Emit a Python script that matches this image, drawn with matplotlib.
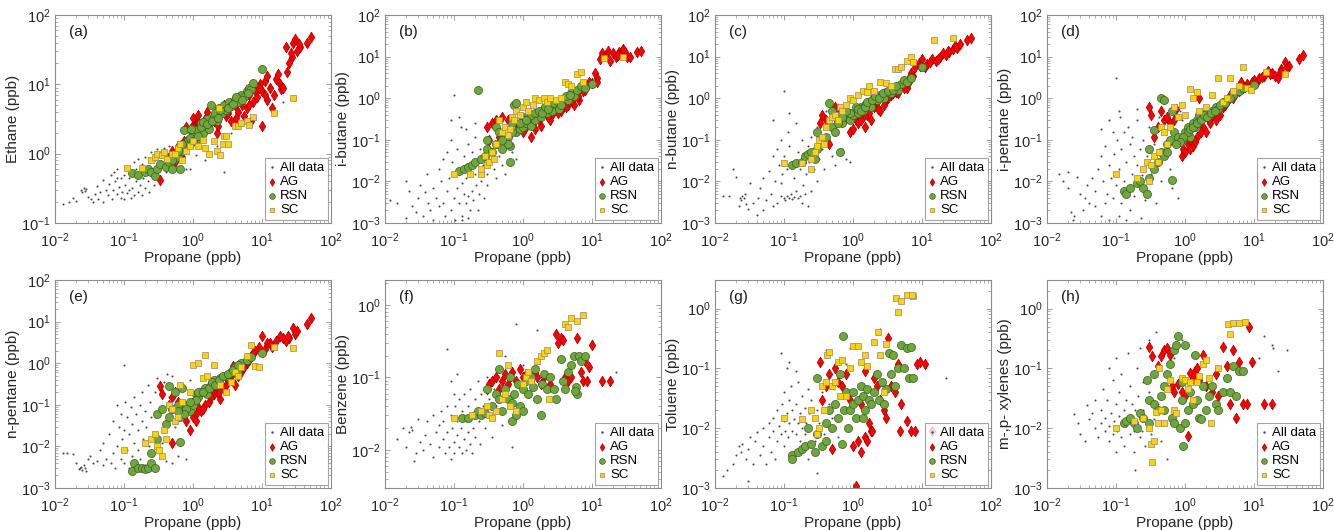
import numpy as np
import matplotlib.pyplot as plt
from matplotlib.ticker import LogLocator, NullFormatter, LogFormatterSciNotation

plt.rcParams['font.family'] = ['Liberation Sans', 'DejaVu Sans']
plt.rcParams['mathtext.fontset'] = 'custom'
plt.rcParams['mathtext.rm'] = 'Liberation Sans'
plt.rcParams['mathtext.it'] = 'Liberation Sans:italic'

# ---- (a) ethane vs propane ----
ALL_A = [(0.013, 0.19), (0.016, 0.2), (0.018, 0.23), (0.02, 0.21), (0.024, 0.3), (0.025, 0.28),
         (0.026, 0.32), (0.027, 0.29), (0.028, 0.31), (0.03, 0.24), (0.033, 0.22), (0.035, 0.2),
         (0.038, 0.26), (0.04, 0.34), (0.042, 0.22), (0.045, 0.28), (0.05, 0.2), (0.05, 0.42),
         (0.055, 0.3), (0.058, 0.25), (0.06, 0.36), (0.065, 0.5), (0.068, 0.22), (0.07, 0.3),
         (0.072, 0.55), (0.075, 0.4), (0.08, 0.26), (0.08, 0.6), (0.085, 0.33), (0.09, 0.45),
         (0.09, 0.23), (0.095, 0.28), (0.1, 0.5), (0.1, 0.22), (0.105, 0.35), (0.11, 0.65),
         (0.11, 0.27), (0.12, 0.3), (0.12, 0.45), (0.125, 0.23), (0.13, 0.55), (0.13, 0.32),
         (0.14, 0.75), (0.14, 0.25), (0.15, 0.4), (0.15, 0.6), (0.16, 0.28), (0.16, 0.85),
         (0.17, 0.35), (0.17, 0.5), (0.18, 0.25), (0.18, 0.7), (0.19, 0.45), (0.2, 0.32),
         (0.2, 0.9), (0.21, 0.6), (0.22, 0.4), (0.23, 0.28), (0.24, 0.75), (0.25, 0.5),
         (0.25, 1.05), (0.27, 0.35), (0.28, 0.8), (0.3, 0.6), (0.3, 1.15), (0.32, 0.45),
         (0.34, 0.9), (0.36, 0.7), (0.38, 1.2), (0.4, 0.55), (0.42, 0.95), (0.45, 1.3),
         (0.5, 0.75), (0.55, 1.1), (0.6, 0.65), (0.7, 1.5), (0.8, 0.6), (0.9, 0.6), (1.1, 0.95),
         (1.5, 0.8), (2.2, 1.3), (2.8, 0.55), (3.5, 2.0), (5.0, 3.5), (10, 7), (14, 9),
         (20, 5.5), (0.12, 0.62), (0.08, 0.45)]
AG_A = [(0.33, 0.42), (0.45, 0.9), (0.5, 1.1), (0.55, 0.75), (0.6, 1.3), (0.7, 0.9), (0.75, 1.5),
        (0.8, 2.4), (0.9, 2.2), (1.0, 2.6), (1.1, 3.0), (1.2, 2.8), (1.3, 2.2), (1.5, 3.2),
        (1.7, 2.5), (2.0, 3.0), (2.2, 2.0), (2.5, 4.0), (3.0, 3.5), (3.5, 3.0), (4.0, 5.0),
        (4.5, 4.0), (5.0, 6.0), (5.5, 3.5), (6.0, 4.5), (6.5, 7.0), (7.0, 3.0), (7.5, 5.5),
        (8.0, 8.0), (8.5, 6.5), (10, 2.5), (9.5, 10), (10, 8), (11, 11), (12, 6), (13, 9),
        (14, 4.5), (15, 7), (16, 12), (18, 10), (19, 8.5), (20, 9), (22, 35), (23, 15),
        (25, 20), (27, 25), (28, 40), (30, 45), (32, 30), (35, 35), (45, 40), (52, 48),
        (1.0, 3.3), (1.2, 3.6), (1.6, 4.0), (2.3, 2.5), (2.8, 5.0), (3.2, 3.8), (4.2, 3.3),
        (5.2, 5.0), (6.5, 5.0), (7.0, 9), (9.0, 9), (11, 7), (12, 13), (17, 14), (26, 28),
        (34, 38)]
RSN_A = [(0.13, 0.52), (0.16, 0.5), (0.2, 0.55), (0.22, 0.6), (0.25, 0.55), (0.28, 0.48),
         (0.3, 0.6), (0.33, 0.7), (0.4, 0.65), (0.45, 0.75), (0.5, 0.6), (0.55, 0.85), (0.6, 0.9),
         (0.65, 0.6), (0.7, 1.1), (0.75, 2.2), (0.8, 1.3), (0.85, 1.6), (0.9, 1.4), (1.0, 1.8),
         (1.05, 2.0), (1.1, 1.6), (1.2, 2.3), (1.3, 2.8), (1.4, 2.0), (1.5, 2.6), (1.6, 3.2),
         (1.7, 2.3), (1.8, 5.0), (2.0, 3.5), (2.2, 3.0), (2.4, 4.5), (2.6, 3.8), (2.8, 5.0),
         (3.0, 4.2), (3.3, 5.5), (3.6, 4.8), (4.0, 6.0), (4.5, 5.5), (5.0, 7.0), (5.5, 6.5),
         (6.0, 8.0), (6.5, 9.0), (7.0, 8.5), (7.5, 10.5), (10, 16.5),
         (0.9, 1.7), (1.0, 1.5), (1.1, 2.2), (1.2, 1.8), (1.3, 2.4), (1.4, 2.9), (1.6, 2.7),
         (1.9, 3.0), (2.1, 3.9), (2.3, 3.3), (2.5, 4.2), (3.2, 4.6), (3.8, 5.2), (4.2, 6.5),
         (5.2, 6.0), (6.2, 7.5), (0.7, 1.4), (0.6, 1.1), (0.5, 0.8), (0.95, 2.3)]
SC_A = [(0.11, 0.62), (0.18, 0.62), (0.25, 0.8), (0.28, 0.9), (0.3, 1.0), (0.35, 0.95),
        (0.38, 1.05), (0.42, 0.85), (0.5, 1.0), (0.55, 1.0), (0.6, 1.2), (0.65, 1.4), (0.7, 0.8),
        (0.8, 1.1), (0.9, 1.3), (1.0, 1.5), (1.2, 1.3), (1.4, 1.6), (1.5, 1.2), (1.7, 1.0),
        (2.0, 1.5), (2.2, 1.1), (2.4, 4.5), (2.5, 0.95), (2.7, 1.4), (2.8, 1.8), (3.0, 1.8),
        (3.2, 1.4), (4.0, 2.5), (4.5, 2.5), (5.0, 2.8), (6.0, 3.0), (6.5, 2.6), (7.5, 3.4),
        (15, 3.8), (28, 6.3)]

# ---- (b) i-butane vs propane ----
ALL_B = [(0.012, 0.0035), (0.015, 0.003), (0.02, 0.01), (0.02, 0.0013), (0.022, 0.006),
         (0.025, 0.0025), (0.028, 0.0018), (0.03, 0.004), (0.032, 0.008), (0.035, 0.0015),
         (0.038, 0.0055), (0.04, 0.015), (0.042, 0.003), (0.045, 0.002), (0.05, 0.007),
         (0.05, 0.0012), (0.055, 0.004), (0.06, 0.02), (0.06, 0.0025), (0.065, 0.01),
         (0.07, 0.003), (0.07, 0.035), (0.075, 0.0015), (0.08, 0.006), (0.08, 0.05),
         (0.085, 0.012), (0.09, 0.002), (0.09, 0.1), (0.095, 0.03), (0.1, 0.004), (0.1, 0.015),
         (0.1, 1.2), (0.105, 0.0012), (0.11, 0.007), (0.11, 0.06), (0.12, 0.003), (0.12, 0.02),
         (0.125, 0.2), (0.13, 0.009), (0.13, 0.0015), (0.14, 0.04), (0.14, 0.005), (0.15, 0.003),
         (0.15, 0.012), (0.16, 0.08), (0.16, 0.0045), (0.17, 0.002), (0.17, 0.025), (0.18, 0.006),
         (0.18, 0.05), (0.19, 0.0035), (0.2, 0.015), (0.2, 0.12), (0.21, 0.008), (0.22, 0.03),
         (0.22, 0.002), (0.23, 0.005), (0.24, 0.06), (0.25, 0.01), (0.26, 0.025), (0.27, 0.004),
         (0.28, 0.045), (0.3, 0.015), (0.3, 0.008), (0.32, 0.035), (0.35, 0.06), (0.38, 0.02),
         (0.4, 0.012), (0.45, 0.04), (0.5, 0.025), (0.55, 0.015), (0.6, 0.1), (0.7, 0.05),
         (0.8, 0.035), (0.9, 0.2), (0.12, 0.35), (0.15, 0.18), (0.2, 0.25), (0.09, 0.3),
         (0.13, 0.0012), (0.16, 0.0013)]
AG_B = [(0.3, 0.2), (0.32, 0.1), (0.35, 0.25), (0.4, 0.3), (0.45, 0.12), (0.5, 0.35), (0.6, 0.3),
        (0.8, 0.25), (1.0, 0.15), (1.1, 0.2), (1.2, 0.28), (1.3, 0.12), (1.5, 0.18), (1.6, 0.35),
        (1.8, 0.22), (2.0, 0.5), (2.2, 0.4), (2.5, 0.3), (3.0, 0.6), (3.5, 0.5), (4.0, 0.8),
        (4.5, 0.7), (5.0, 1.0), (5.5, 0.7), (6.0, 1.3), (6.5, 0.9), (7.0, 2.0), (8.0, 1.6),
        (9.0, 2.5), (10, 2.3), (11, 4.0), (12, 3.0), (13, 9.0), (14, 12), (16, 11), (18, 8),
        (20, 12), (22, 10), (25, 13), (27, 14), (30, 13), (32, 10), (35, 10), (45, 13), (52, 14),
        (1.4, 0.25), (1.7, 0.3), (2.3, 0.35), (2.7, 0.45), (3.2, 0.45), (3.8, 0.65), (4.2, 0.6),
        (5.2, 0.85), (6.2, 1.1), (7.5, 1.5), (8.5, 2.0), (12, 2.5), (17, 14), (24, 11), (28, 15)]
RSN_B = [(0.12, 0.018), (0.14, 0.02), (0.16, 0.022), (0.18, 0.025), (0.2, 0.03), (0.22, 1.6),
         (0.25, 0.035), (0.28, 0.04), (0.3, 0.06), (0.3, 0.1), (0.35, 0.05), (0.4, 0.08),
         (0.4, 0.2), (0.45, 0.15), (0.5, 0.06), (0.55, 0.1), (0.6, 0.12), (0.65, 0.03),
         (0.65, 0.07), (0.7, 0.25), (0.75, 0.7), (0.8, 0.75), (0.8, 0.15), (0.9, 0.18), (1.0, 0.2),
         (1.0, 0.35), (1.1, 0.25), (1.2, 0.3), (1.3, 0.22), (1.4, 0.4), (1.5, 0.3), (1.6, 0.45),
         (1.8, 0.35), (2.0, 0.55), (2.2, 0.45), (2.4, 0.6), (2.6, 0.5), (3.0, 0.7), (3.3, 0.55),
         (3.6, 0.8), (4.0, 1.0), (4.5, 0.9), (5.0, 1.3), (5.5, 1.1), (6.0, 1.6), (7.0, 2.0),
         (8.0, 1.8), (10, 2.2),
         (1.2, 0.35), (1.3, 0.4), (1.5, 0.45), (1.7, 0.5), (1.9, 0.45), (2.1, 0.6), (2.3, 0.55),
         (2.8, 0.75), (3.2, 0.8), (3.5, 0.7), (4.2, 1.1), (4.8, 1.2), (0.9, 0.25), (0.7, 0.15),
         (0.6, 0.08), (0.5, 0.1), (1.1, 0.3)]
SC_B = [(0.1, 0.015), (0.17, 0.015), (0.25, 0.015), (0.25, 0.02), (0.28, 0.04), (0.3, 0.025),
        (0.32, 0.03), (0.35, 0.05), (0.38, 0.035), (0.4, 0.08), (0.45, 0.3), (0.5, 0.15),
        (0.55, 0.2), (0.6, 0.13), (0.65, 0.18), (0.7, 0.35), (0.75, 0.3), (0.8, 0.5), (0.9, 0.4),
        (1.0, 0.6), (1.1, 0.8), (1.2, 0.5), (1.4, 0.7), (1.5, 1.0), (1.7, 0.9), (2.0, 1.0),
        (2.2, 0.8), (2.5, 1.0), (3.0, 0.9), (3.5, 1.0), (4.0, 2.5), (4.5, 2.2), (5.0, 2.0),
        (6.0, 3.8), (7.0, 4.2), (7.5, 2.5), (15, 9.5), (28, 10)]

# ---- (c) n-butane vs propane ----
ALL_C = [(0.013, 0.0045), (0.016, 0.0045), (0.018, 0.02), (0.02, 0.013), (0.022, 0.0025),
         (0.023, 0.004), (0.024, 0.0035), (0.025, 0.0045), (0.026, 0.004), (0.027, 0.005),
         (0.028, 0.0028), (0.03, 0.0022), (0.032, 0.009), (0.035, 0.003), (0.04, 0.0016),
         (0.042, 0.004), (0.045, 0.007), (0.05, 0.002), (0.05, 0.012), (0.055, 0.0035),
         (0.06, 0.018), (0.065, 0.005), (0.07, 0.04), (0.07, 0.0025), (0.075, 0.01), (0.08, 0.06),
         (0.08, 0.003), (0.085, 0.025), (0.09, 0.0045), (0.09, 0.1), (0.095, 0.015), (0.1, 0.004),
         (0.1, 0.04), (0.1, 1.5), (0.105, 0.0035), (0.11, 0.0045), (0.11, 0.02), (0.115, 0.15),
         (0.12, 0.004), (0.12, 0.07), (0.125, 0.005), (0.13, 0.0038), (0.13, 0.03), (0.14, 0.0042),
         (0.14, 0.012), (0.15, 0.25), (0.15, 0.006), (0.16, 0.004), (0.16, 0.05), (0.17, 0.0045),
         (0.17, 0.02), (0.18, 0.1), (0.18, 0.003), (0.19, 0.008), (0.2, 0.04), (0.2, 0.005),
         (0.21, 0.015), (0.22, 0.0025), (0.22, 0.07), (0.23, 0.03), (0.25, 0.006), (0.25, 0.12),
         (0.27, 0.02), (0.28, 0.05), (0.3, 0.01), (0.3, 0.2), (0.32, 0.035), (0.35, 0.06),
         (0.38, 0.02), (0.4, 0.5), (0.45, 0.1), (0.5, 0.04), (0.55, 0.025), (0.6, 0.3),
         (0.7, 0.06), (0.8, 0.035), (0.9, 0.03), (0.12, 0.45), (0.07, 0.3), (0.09, 0.009)]
AG_C = [(0.33, 0.25), (0.35, 0.4), (0.4, 0.3), (0.45, 0.08), (0.5, 0.5), (0.55, 0.6), (0.6, 0.55),
        (0.8, 0.35), (0.9, 0.15), (1.0, 0.18), (1.1, 0.3), (1.2, 0.25), (1.4, 0.35), (1.5, 0.2),
        (1.6, 0.4), (1.8, 0.3), (2.0, 0.6), (2.2, 0.8), (2.5, 0.5), (3.0, 0.9), (3.5, 1.2),
        (4.0, 1.5), (4.5, 1.3), (5.0, 2.0), (5.5, 2.5), (6.0, 1.8), (6.5, 3.0), (7.0, 4.0),
        (8.0, 5.5), (9.0, 7), (10, 9), (11, 5.5), (12, 6.5), (14, 9), (16, 8), (18, 10), (20, 12),
        (22, 11), (25, 13), (28, 15), (30, 18), (32, 16), (35, 20), (45, 25), (52, 28),
        (1.3, 0.3), (1.7, 0.45), (2.3, 0.55), (2.8, 0.7), (3.2, 1.0), (3.8, 1.3), (4.2, 1.4),
        (5.5, 1.8), (6.5, 2.5), (7.5, 3.5), (9.5, 6), (13, 7.5), (17, 9), (24, 14)]
RSN_C = [(0.13, 0.025), (0.15, 0.028), (0.18, 0.03), (0.2, 0.04), (0.22, 0.045), (0.25, 0.05),
         (0.28, 0.035), (0.3, 0.06), (0.3, 0.15), (0.35, 0.1), (0.4, 0.12), (0.45, 0.75),
         (0.5, 0.5), (0.5, 0.2), (0.55, 0.15), (0.6, 0.3), (0.65, 0.05), (0.7, 0.25), (0.8, 0.35),
         (0.9, 0.3), (1.0, 0.4), (1.1, 0.5), (1.2, 0.45), (1.3, 0.6), (1.4, 0.5), (1.5, 0.7),
         (1.7, 0.8), (1.8, 0.6), (2.0, 1.0), (2.2, 0.9), (2.5, 1.2), (2.8, 1.0), (3.0, 1.4),
         (3.5, 1.3), (4.0, 1.8), (4.5, 1.6), (5.0, 2.2), (5.5, 2.8), (6.0, 2.4), (7.0, 3.0),
         (10, 5.5),
         (1.1, 0.6), (1.2, 0.55), (1.3, 0.5), (1.5, 0.6), (1.6, 0.8), (1.9, 0.9), (2.1, 1.1),
         (2.4, 1.0), (2.7, 1.3), (3.2, 1.5), (3.8, 1.6), (4.2, 2.0), (0.9, 0.45), (0.8, 0.5),
         (0.7, 0.35), (0.6, 0.25)]
SC_C = [(0.1, 0.028), (0.18, 0.028), (0.25, 0.02), (0.25, 0.035), (0.28, 0.05), (0.3, 0.07),
        (0.32, 0.1), (0.35, 0.12), (0.38, 0.08), (0.4, 0.2), (0.45, 0.3), (0.5, 0.35), (0.55, 0.4),
        (0.6, 0.3), (0.65, 0.6), (0.7, 0.5), (0.8, 0.7), (0.9, 1.0), (1.0, 0.9), (1.2, 1.2),
        (1.4, 1.5), (1.6, 1.4), (1.7, 2.0), (2.0, 1.5), (2.5, 2.5), (3.0, 2.3), (3.5, 2.0),
        (4.0, 5.0), (4.5, 5.0), (5.0, 5.5), (6.0, 8), (7.0, 10), (7.5, 7.5), (15, 25), (28, 28)]

# ---- (d) i-pentane vs propane ----
ALL_D = [(0.015, 0.015), (0.017, 0.01), (0.02, 0.017), (0.02, 0.007), (0.022, 0.0018),
         (0.024, 0.0012), (0.025, 0.0015), (0.027, 0.013), (0.03, 0.005), (0.033, 0.002),
         (0.035, 0.004), (0.038, 0.008), (0.04, 0.003), (0.045, 0.012), (0.05, 0.0025),
         (0.05, 0.006), (0.055, 0.02), (0.06, 0.0015), (0.06, 0.04), (0.065, 0.01), (0.07, 0.003),
         (0.07, 0.07), (0.075, 0.005), (0.08, 0.025), (0.08, 0.0012), (0.085, 0.012), (0.09, 0.15),
         (0.09, 0.004), (0.095, 0.045), (0.1, 3.0), (0.1, 0.001), (0.1, 0.008), (0.105, 0.1),
         (0.11, 0.02), (0.11, 0.0015), (0.115, 0.35), (0.12, 0.06), (0.12, 0.003), (0.13, 0.01),
         (0.13, 0.15), (0.14, 0.0012), (0.14, 0.03), (0.15, 0.005), (0.15, 0.2), (0.16, 0.08),
         (0.16, 0.002), (0.17, 0.015), (0.17, 0.12), (0.18, 0.0045), (0.18, 0.04), (0.19, 0.001),
         (0.2, 0.025), (0.2, 0.3), (0.21, 0.008), (0.22, 0.06), (0.23, 0.0013), (0.24, 0.014),
         (0.25, 0.1), (0.26, 0.0035), (0.28, 0.04), (0.3, 0.006), (0.3, 0.2), (0.32, 0.015),
         (0.35, 0.08), (0.38, 0.003), (0.4, 0.03), (0.42, 0.35), (0.45, 0.01), (0.5, 0.06),
         (0.55, 0.4), (0.6, 0.02), (0.65, 0.007), (0.7, 0.15), (0.8, 0.004), (0.85, 0.5),
         (0.9, 0.3), (0.2, 0.55), (0.11, 0.5), (0.06, 0.18), (0.08, 0.3)]
AG_D = [(0.3, 0.6), (0.32, 0.4), (0.35, 0.12), (0.4, 0.2), (0.45, 0.5), (0.5, 0.3), (0.55, 0.35),
        (0.6, 0.25), (0.7, 0.3), (0.75, 0.55), (0.9, 0.04), (0.95, 0.06), (1.0, 0.05), (1.1, 0.08),
        (1.2, 0.1), (1.3, 0.07), (1.5, 0.12), (1.6, 1.0), (1.8, 0.2), (2.0, 0.15), (2.2, 0.3),
        (2.5, 0.4), (2.8, 0.3), (3.0, 0.5), (3.5, 0.6), (4.0, 0.8), (4.5, 1.2), (5.0, 1.0),
        (6.0, 1.5), (6.5, 2.5), (7.0, 1.8), (8.0, 2.2), (9.0, 2.0), (10, 2.8), (11, 2.5),
        (12, 3.0), (14, 3.5), (16, 4.5), (18, 4.0), (20, 3.5), (22, 3.0), (25, 5.0), (28, 7.5),
        (30, 5.5), (32, 6.0), (45, 9), (52, 11),
        (1.2, 0.06), (1.4, 0.09), (1.7, 0.15), (2.3, 0.25), (3.2, 0.4), (3.8, 0.7), (5.5, 1.3),
        (7.5, 1.9), (9.5, 2.5), (13, 3.2), (17, 3.8), (24, 4.2)]
RSN_D = [(0.13, 0.006), (0.14, 0.005), (0.16, 0.007), (0.2, 0.009), (0.22, 0.01), (0.25, 0.007),
         (0.28, 0.005), (0.3, 0.012), (0.3, 0.06), (0.35, 0.02), (0.35, 0.17), (0.4, 0.03),
         (0.45, 1.0), (0.45, 0.05), (0.5, 0.9), (0.5, 0.04), (0.55, 0.08), (0.6, 0.1),
         (0.65, 0.011), (0.65, 0.5), (0.7, 0.15), (0.8, 0.12), (0.9, 0.1), (1.0, 0.15), (1.1, 0.2),
         (1.2, 0.12), (1.3, 0.25), (1.4, 0.2), (1.5, 0.3), (1.6, 0.4), (1.8, 0.35), (2.0, 0.45),
         (2.2, 0.4), (2.5, 0.5), (2.8, 0.6), (3.0, 0.55), (3.5, 0.8), (4.0, 0.9), (5.0, 1.2),
         (6.0, 1.5), (7.0, 1.8), (10, 2.1),
         (1.1, 0.15), (1.2, 0.18), (1.3, 0.2), (1.5, 0.25), (1.7, 0.3), (1.9, 0.4), (2.1, 0.35),
         (2.4, 0.45), (2.7, 0.5), (3.2, 0.7), (3.8, 0.75), (4.5, 1.0), (0.95, 0.12), (0.85, 0.09),
         (0.75, 0.08), (0.55, 0.05)]
SC_D = [(0.1, 0.015), (0.2, 0.012), (0.25, 0.02), (0.28, 0.03), (0.3, 0.01), (0.32, 0.025),
        (0.35, 0.04), (0.4, 0.03), (0.42, 0.05), (0.45, 0.2), (0.5, 0.15), (0.55, 0.08), (0.6, 0.2),
        (0.7, 0.6), (0.8, 0.35), (0.9, 0.7), (1.0, 0.4), (1.2, 1.7), (1.3, 1.0), (1.5, 1.4),
        (1.6, 0.5), (2.0, 0.6), (2.5, 1.2), (3.0, 3.0), (3.5, 0.8), (4.0, 1.0), (4.5, 3.0),
        (5.0, 1.5), (6.0, 2.0), (7.0, 5.5), (8.0, 1.8), (9.0, 1.6), (15, 4.2), (28, 3.8)]

# ---- (e) n-pentane vs propane ----
ALL_E = [(0.013, 0.0068), (0.015, 0.007), (0.018, 0.0065), (0.02, 0.004), (0.022, 0.0028),
         (0.023, 0.003), (0.024, 0.0032), (0.025, 0.0027), (0.026, 0.0035), (0.027, 0.003),
         (0.028, 0.0025), (0.03, 0.005), (0.032, 0.006), (0.035, 0.004), (0.04, 0.0045),
         (0.045, 0.008), (0.05, 0.0035), (0.05, 0.012), (0.055, 0.005), (0.06, 0.02),
         (0.065, 0.004), (0.07, 0.04), (0.07, 0.007), (0.075, 0.003), (0.08, 0.1), (0.08, 0.01),
         (0.085, 0.03), (0.09, 0.005), (0.09, 0.06), (0.095, 0.015), (0.1, 0.9), (0.1, 0.004),
         (0.1, 0.025), (0.105, 0.12), (0.11, 0.008), (0.11, 0.05), (0.12, 0.003), (0.12, 0.02),
         (0.125, 0.09), (0.13, 0.006), (0.13, 0.035), (0.14, 0.012), (0.14, 0.15), (0.15, 0.004),
         (0.15, 0.06), (0.16, 0.025), (0.16, 0.008), (0.17, 0.1), (0.17, 0.005), (0.18, 0.04),
         (0.18, 0.2), (0.19, 0.015), (0.2, 0.07), (0.2, 0.0035), (0.21, 0.03), (0.22, 0.3),
         (0.23, 0.01), (0.24, 0.12), (0.25, 0.05), (0.26, 0.006), (0.28, 0.2), (0.3, 0.02),
         (0.3, 0.45), (0.32, 0.08), (0.35, 0.012), (0.38, 0.35), (0.4, 0.04), (0.42, 0.55),
         (0.45, 0.15), (0.5, 0.5), (0.55, 0.03), (0.6, 0.25), (0.7, 0.08), (0.8, 0.005),
         (0.9, 0.4), (0.4, 0.0045), (0.5, 0.004), (0.6, 0.006)]
AG_E = [(0.33, 0.28), (0.35, 0.18), (0.45, 0.1), (0.5, 0.012), (0.5, 0.15), (0.55, 0.2),
        (0.6, 0.12), (0.7, 0.08), (0.8, 0.04), (0.9, 0.025), (1.0, 0.05), (1.1, 0.06), (1.2, 0.09),
        (1.3, 0.07), (1.5, 0.1), (1.7, 0.12), (2.0, 0.18), (2.2, 0.2), (2.5, 0.14), (3.0, 0.3),
        (3.5, 0.5), (3.8, 0.85), (4.0, 0.3), (5.0, 0.6), (6.0, 1.0), (7.0, 1.5), (8.0, 2.0),
        (9.0, 2.5), (10, 4.5), (11, 2.2), (12, 3.0), (14, 2.5), (16, 3.5), (18, 4.5), (20, 4.0),
        (22, 3.5), (25, 4.0), (28, 7.0), (30, 5.0), (32, 6.0), (45, 9.0), (52, 12),
        (1.1, 0.04), (1.4, 0.08), (1.8, 0.15), (2.4, 0.2), (2.8, 0.25), (3.2, 0.4), (4.5, 0.5),
        (5.5, 0.8), (6.5, 1.2), (7.5, 1.8), (13, 3.0), (24, 4.5)]
RSN_E = [(0.13, 0.0025), (0.14, 0.004), (0.16, 0.003), (0.18, 0.003), (0.2, 0.0028),
         (0.22, 0.003), (0.25, 0.004), (0.28, 0.003), (0.25, 0.007), (0.3, 0.015), (0.3, 0.06),
         (0.35, 0.08), (0.4, 0.035), (0.45, 0.05), (0.45, 0.28), (0.5, 0.08), (0.55, 0.2),
         (0.6, 0.1), (0.65, 0.013), (0.65, 0.05), (0.7, 0.25), (0.8, 0.1), (0.9, 0.07), (1.0, 0.12),
         (1.1, 0.18), (1.2, 0.15), (1.3, 0.2), (1.5, 0.25), (1.6, 0.18), (1.8, 0.3), (2.0, 0.4),
         (2.2, 0.3), (2.5, 0.45), (3.0, 0.5), (3.5, 0.6), (4.0, 0.8), (4.5, 0.7), (5.0, 1.0),
         (6.0, 1.2), (7.0, 1.4), (10, 1.8),
         (1.0, 0.1), (1.1, 0.13), (1.2, 0.2), (1.4, 0.2), (1.7, 0.25), (1.9, 0.35), (2.1, 0.3),
         (2.4, 0.4), (2.7, 0.5), (3.2, 0.55), (3.8, 0.7), (4.5, 0.9), (0.9, 0.12), (0.8, 0.08),
         (0.75, 0.06), (0.6, 0.07)]
SC_E = [(0.1, 0.008), (0.2, 0.012), (0.25, 0.015), (0.28, 0.02), (0.3, 0.01), (0.32, 0.008),
        (0.35, 0.006), (0.38, 0.025), (0.4, 0.015), (0.45, 0.1), (0.5, 0.08), (0.55, 0.04),
        (0.6, 0.05), (0.65, 0.3), (0.7, 0.12), (0.9, 0.2), (1.0, 0.9), (1.2, 1.0), (1.4, 0.45),
        (1.5, 1.6), (1.6, 0.5), (2.0, 0.9), (2.5, 0.3), (3.0, 0.2), (3.5, 0.35), (4.0, 0.6),
        (4.5, 0.5), (5.0, 0.8), (6.0, 1.5), (7.0, 2.8), (8.0, 0.85), (9.0, 0.8), (15, 2.5),
        (28, 2.3)]

# ---- (f) benzene vs propane ----
ALL_F = [(0.015, 0.014), (0.018, 0.02), (0.02, 0.011), (0.022, 0.018), (0.024, 0.021),
         (0.025, 0.019), (0.026, 0.007), (0.028, 0.009), (0.03, 0.027), (0.032, 0.013),
         (0.035, 0.01), (0.038, 0.016), (0.04, 0.025), (0.045, 0.012), (0.05, 0.03), (0.05, 0.008),
         (0.055, 0.018), (0.06, 0.022), (0.06, 0.011), (0.065, 0.035), (0.07, 0.014), (0.07, 0.025),
         (0.075, 0.009), (0.08, 0.04), (0.08, 0.018), (0.08, 0.25), (0.085, 0.011), (0.09, 0.03),
         (0.09, 0.0075), (0.095, 0.02), (0.1, 0.06), (0.1, 0.013), (0.1, 0.009), (0.105, 0.04),
         (0.11, 0.016), (0.11, 0.025), (0.12, 0.011), (0.12, 0.05), (0.125, 0.02), (0.13, 0.035),
         (0.13, 0.009), (0.14, 0.014), (0.14, 0.06), (0.15, 0.025), (0.15, 0.01), (0.16, 0.04),
         (0.16, 0.018), (0.17, 0.012), (0.17, 0.07), (0.18, 0.03), (0.18, 0.009), (0.19, 0.02),
         (0.2, 0.05), (0.2, 0.015), (0.21, 0.035), (0.22, 0.09), (0.23, 0.025), (0.24, 0.012),
         (0.25, 0.06), (0.26, 0.04), (0.28, 0.02), (0.3, 0.1), (0.3, 0.03), (0.32, 0.05),
         (0.35, 0.015), (0.38, 0.07), (0.4, 0.04), (0.45, 0.12), (0.5, 0.022), (0.55, 0.2),
         (0.6, 0.08), (0.7, 0.011), (0.8, 0.55), (1.0, 0.15), (1.6, 0.45), (22, 0.12),
         (0.09, 0.09), (0.11, 0.11)]
AG_F = [(0.3, 0.07), (0.32, 0.08), (0.35, 0.09), (0.4, 0.1), (0.45, 0.07), (0.5, 0.09),
        (0.55, 0.11), (0.6, 0.08), (0.65, 0.1), (0.7, 0.12), (0.8, 0.09), (0.9, 0.13), (1.0, 0.1),
        (1.1, 0.11), (1.3, 0.09), (1.5, 0.12), (1.6, 0.1), (1.8, 0.08), (2.0, 0.1), (2.5, 0.08),
        (3.0, 0.4), (3.2, 0.3), (3.5, 0.35), (3.8, 0.33), (4.0, 0.1), (4.5, 0.09), (5.0, 0.1),
        (6.0, 0.35), (7.0, 0.12), (8.0, 0.17), (9.0, 0.14), (10, 0.28), (7.5, 0.09), (8.5, 0.09),
        (14, 0.09), (18, 0.09)]
RSN_F = [(0.13, 0.028), (0.16, 0.028), (0.2, 0.03), (0.22, 0.035), (0.25, 0.03), (0.28, 0.032),
         (0.3, 0.07), (0.35, 0.04), (0.4, 0.06), (0.45, 0.13), (0.45, 0.05), (0.5, 0.035),
         (0.55, 0.07), (0.6, 0.05), (0.65, 0.1), (0.7, 0.025), (0.7, 0.045), (0.75, 0.06),
         (0.8, 0.03), (0.85, 0.08), (0.9, 0.04), (1.0, 0.07), (1.0, 0.035), (1.1, 0.09), (1.2, 0.06),
         (1.3, 0.1), (1.4, 0.075), (1.5, 0.13), (1.6, 0.05), (1.8, 0.03), (1.9, 0.08), (2.0, 0.11),
         (2.2, 0.07), (2.5, 0.1), (2.8, 0.07), (3.0, 0.05), (3.5, 0.18), (3.8, 0.09), (4.0, 0.07),
         (4.5, 0.12), (5.0, 0.15), (5.5, 0.2), (6.0, 0.06), (6.5, 0.2), (7.0, 0.17), (8.0, 0.2),
         (5.8, 0.075), (5.6, 0.065)]
SC_F = [(0.1, 0.028), (0.18, 0.03), (0.25, 0.035), (0.3, 0.04), (0.32, 0.03), (0.35, 0.028),
        (0.4, 0.035), (0.45, 0.22), (0.5, 0.05), (0.55, 0.06), (0.6, 0.15), (0.65, 0.04),
        (0.8, 0.035), (1.0, 0.08), (1.1, 0.1), (1.2, 0.12), (1.3, 0.09), (1.6, 0.17), (1.8, 0.2),
        (2.0, 0.22), (2.2, 0.24), (2.4, 0.05), (4.0, 0.55), (4.5, 0.5), (5.0, 0.65), (6.0, 0.6),
        (7.5, 0.72)]

# ---- (g) toluene vs propane ----
ALL_G = [(0.013, 0.0016), (0.015, 0.002), (0.018, 0.0025), (0.02, 0.0035), (0.022, 0.005),
         (0.024, 0.004), (0.025, 0.0055), (0.028, 0.003), (0.03, 0.0045), (0.03, 0.0013),
         (0.032, 0.007), (0.035, 0.0025), (0.038, 0.006), (0.04, 0.0085), (0.045, 0.0035),
         (0.05, 0.01), (0.05, 0.005), (0.055, 0.0025), (0.06, 0.012), (0.06, 0.007),
         (0.065, 0.004), (0.07, 0.015), (0.07, 0.009), (0.075, 0.003), (0.08, 0.02), (0.08, 0.006),
         (0.085, 0.011), (0.09, 0.18), (0.09, 0.008), (0.095, 0.025), (0.1, 0.005), (0.1, 0.013),
         (0.1, 0.04), (0.105, 0.009), (0.11, 0.018), (0.11, 0.1), (0.115, 0.007), (0.12, 0.012),
         (0.12, 0.03), (0.125, 0.05), (0.13, 0.009), (0.13, 0.02), (0.14, 0.004), (0.14, 0.014),
         (0.15, 0.008), (0.15, 0.025), (0.16, 0.012), (0.16, 0.06), (0.17, 0.018), (0.17, 0.006),
         (0.18, 0.01), (0.18, 0.035), (0.19, 0.015), (0.2, 0.008), (0.2, 0.022), (0.21, 0.012),
         (0.22, 0.045), (0.22, 0.003), (0.23, 0.018), (0.24, 0.01), (0.25, 0.03), (0.26, 0.015),
         (0.28, 0.006), (0.3, 0.02), (0.3, 0.0018), (0.32, 0.012), (0.35, 0.04), (0.38, 0.008),
         (0.4, 0.2), (0.45, 0.025), (0.5, 0.015), (0.55, 0.1), (0.6, 0.007), (0.7, 0.05),
         (0.8, 0.12), (0.9, 0.22), (2.5, 0.45), (22, 0.07), (0.12, 0.13), (0.15, 0.09)]
AG_G = [(0.33, 0.13), (0.35, 0.03), (0.4, 0.05), (0.45, 0.08), (0.5, 0.0045), (0.55, 0.1),
        (0.6, 0.06), (0.7, 0.05), (0.8, 0.08), (0.9, 0.03), (1.0, 0.005), (1.1, 0.0011),
        (1.2, 0.006), (1.3, 0.004), (1.5, 0.007), (1.6, 0.006), (1.7, 0.012), (1.8, 0.009),
        (1.9, 0.009), (2.0, 0.07), (2.2, 0.05), (2.5, 0.03), (2.8, 0.02), (3.0, 0.015), (3.2, 0.32),
        (3.5, 0.05), (4.0, 0.04), (4.5, 0.12), (5.0, 0.025), (4.8, 0.009), (6.0, 0.013),
        (7.0, 0.009), (8.0, 0.009), (8.5, 0.12), (9.5, 0.13), (11, 0.12), (14, 0.009), (1.5, 0.09),
        (1.3, 0.025)]
RSN_G = [(0.13, 0.0035), (0.13, 0.003), (0.16, 0.004), (0.18, 0.0045), (0.2, 0.005), (0.22, 0.01),
         (0.25, 0.0055), (0.28, 0.004), (0.3, 0.07), (0.3, 0.008), (0.35, 0.005), (0.4, 0.006),
         (0.4, 0.012), (0.45, 0.02), (0.5, 0.01), (0.55, 0.025), (0.6, 0.015), (0.65, 0.08),
         (0.7, 0.0055), (0.72, 0.35), (0.75, 0.02), (0.8, 0.04), (0.85, 0.01), (0.9, 0.02),
         (1.0, 0.025), (1.0, 0.04), (1.1, 0.015), (1.2, 0.03), (1.3, 0.05), (1.4, 0.035),
         (1.5, 0.02), (1.6, 0.045), (1.7, 0.03), (1.8, 0.025), (2.0, 0.04), (2.2, 0.08),
         (2.4, 0.03), (2.6, 0.06), (3.0, 0.045), (3.3, 0.18), (3.5, 0.08), (3.8, 0.17), (4.0, 0.05),
         (4.5, 0.1), (5.0, 0.25), (5.5, 0.1), (6.0, 0.22), (6.5, 0.07), (7.0, 0.23), (7.5, 0.07),
         (1.4, 0.015), (2.8, 0.025)]
SC_G = [(0.1, 0.015), (0.18, 0.014), (0.25, 0.02), (0.28, 0.015), (0.3, 0.008), (0.32, 0.01),
        (0.35, 0.05), (0.38, 0.02), (0.4, 0.06), (0.42, 0.17), (0.45, 0.19), (0.5, 0.05),
        (0.55, 0.06), (0.6, 0.13), (0.65, 0.035), (0.7, 0.14), (0.8, 0.035), (0.9, 0.1), (1.0, 0.24),
        (1.2, 0.24), (1.3, 0.13), (1.5, 0.17), (1.6, 0.11), (2.0, 0.28), (2.3, 0.4), (2.5, 0.17),
        (3.0, 0.26), (2.8, 0.04), (4.2, 1.5), (4.5, 0.88), (5.0, 1.35), (6.0, 1.7), (7.3, 1.6),
        (7.2, 1.7)]

# ---- (h) m-,p-xylenes vs propane ----
ALL_H = [(0.025, 0.017), (0.028, 0.012), (0.03, 0.008), (0.035, 0.006), (0.038, 0.024),
         (0.04, 0.014), (0.045, 0.018), (0.05, 0.01), (0.05, 0.03), (0.055, 0.007), (0.06, 0.012),
         (0.06, 0.02), (0.065, 0.045), (0.07, 0.009), (0.07, 0.015), (0.075, 0.03), (0.08, 0.006),
         (0.08, 0.011), (0.08, 0.1), (0.085, 0.018), (0.09, 0.008), (0.09, 0.065), (0.095, 0.013),
         (0.1, 0.004), (0.1, 0.025), (0.1, 0.15), (0.105, 0.009), (0.11, 0.016), (0.11, 0.04),
         (0.12, 0.012), (0.12, 0.007), (0.12, 0.08), (0.13, 0.02), (0.13, 0.005), (0.14, 0.011),
         (0.14, 0.03), (0.15, 0.015), (0.15, 0.18), (0.16, 0.008), (0.16, 0.05), (0.17, 0.013),
         (0.17, 0.025), (0.18, 0.004), (0.18, 0.009), (0.19, 0.02), (0.19, 0.002), (0.2, 0.012),
         (0.2, 0.1), (0.21, 0.035), (0.22, 0.007), (0.22, 0.22), (0.23, 0.015), (0.24, 0.009),
         (0.25, 0.06), (0.25, 0.02), (0.26, 0.005), (0.28, 0.013), (0.3, 0.04), (0.3, 0.3),
         (0.32, 0.008), (0.35, 0.014), (0.38, 0.4), (0.4, 0.025), (0.45, 0.006), (0.5, 0.012),
         (0.55, 0.003), (0.6, 0.2), (0.7, 0.15), (0.9, 0.3), (14, 0.35), (18, 0.25), (19, 0.22),
         (30, 0.2), (22, 0.09), (12, 0.15)]
AG_H = [(0.3, 0.23), (0.33, 0.16), (0.4, 0.11), (0.45, 0.16), (0.5, 0.2), (0.55, 0.22),
        (0.6, 0.17), (0.65, 0.05), (0.7, 0.04), (0.8, 0.055), (0.9, 0.04), (1.0, 0.035),
        (1.1, 0.0075), (1.2, 0.085), (1.3, 0.07), (1.4, 0.09), (1.5, 0.1), (1.6, 0.065),
        (1.8, 0.17), (2.0, 0.05), (2.5, 0.04), (2.8, 0.08), (3.0, 0.035), (3.5, 0.23), (4.0, 0.11),
        (4.5, 0.025), (5.0, 0.2), (5.5, 0.015), (6.0, 0.13), (7.0, 0.025), (8.0, 0.025),
        (8.5, 0.5), (9.5, 0.13), (14, 0.025), (18, 0.025)]
RSN_H = [(0.13, 0.012), (0.14, 0.013), (0.16, 0.015), (0.18, 0.012), (0.2, 0.01), (0.22, 0.018),
         (0.25, 0.015), (0.28, 0.065), (0.3, 0.03), (0.3, 0.012), (0.35, 0.08), (0.35, 0.025),
         (0.4, 0.02), (0.45, 0.035), (0.5, 0.05), (0.5, 0.02), (0.55, 0.08), (0.6, 0.12),
         (0.65, 0.015), (0.7, 0.2), (0.75, 0.25), (0.8, 0.35), (0.85, 0.01), (0.9, 0.03),
         (0.95, 0.005), (1.0, 0.25), (1.0, 0.012), (1.1, 0.02), (1.2, 0.04), (1.3, 0.025),
         (1.4, 0.17), (1.5, 0.03), (1.6, 0.015), (1.8, 0.05), (2.0, 0.02), (2.2, 0.035),
         (2.5, 0.05), (2.8, 0.025), (3.0, 0.02), (3.5, 0.04), (4.0, 0.07), (4.5, 0.04), (5.0, 0.11),
         (5.5, 0.035), (6.0, 0.09), (7.0, 0.09), (1.7, 0.014), (0.9, 0.06), (0.7, 0.012)]
SC_H = [(0.1, 0.01), (0.18, 0.013), (0.25, 0.015), (0.3, 0.01), (0.32, 0.0055), (0.33, 0.0027),
        (0.35, 0.006), (0.38, 0.019), (0.4, 0.012), (0.42, 0.1), (0.45, 0.02), (0.5, 0.012),
        (0.55, 0.045), (0.6, 0.065), (0.7, 0.02), (0.75, 0.018), (0.9, 0.068), (1.0, 0.063),
        (1.1, 0.045), (1.2, 0.06), (1.3, 0.03), (1.5, 0.06), (1.6, 0.075), (1.8, 0.12), (2.0, 0.14),
        (2.2, 0.07), (2.4, 0.012), (3.0, 0.1), (4.2, 0.55), (4.5, 0.38), (5.0, 0.58), (6.0, 0.58),
        (7.3, 0.6)]

LETTERS = ['(a)', '(b)', '(c)', '(d)', '(e)', '(f)', '(g)', '(h)']
YLABELS = ['Ethane (ppb)', 'i-butane (ppb)', 'n-butane (ppb)', 'i-pentane (ppb)',
           'n-pentane (ppb)', 'Benzene (ppb)', 'Toluene (ppb)', 'm-,p- xylenes (ppb)']
YLIMS = [(1e-1, 1e2), (1e-3, 1e2), (1e-3, 1e2), (1e-3, 1e2),
         (1e-3, 1e2), (3e-3, 2.2), (1e-3, 3), (1e-3, 3)]
SERIES = [
    (ALL_A, AG_A, RSN_A, SC_A), (ALL_B, AG_B, RSN_B, SC_B),
    (ALL_C, AG_C, RSN_C, SC_C), (ALL_D, AG_D, RSN_D, SC_D),
    (ALL_E, AG_E, RSN_E, SC_E), (ALL_F, AG_F, RSN_F, SC_F),
    (ALL_G, AG_G, RSN_G, SC_G), (ALL_H, AG_H, RSN_H, SC_H),
]

SPINE = '#8c8c8c'
TEXT = '#262626'


def xy(pairs):
    arr = np.array(pairs, dtype=float)
    return arr[:, 0], arr[:, 1]


def draw_panel(ax, letter, ylabel, ylim, series):
    all_pts, ag, rsn, sc = series
    x, y = xy(all_pts)
    ax.scatter(x, y, s=2.2, c='#4a4a4a', marker='o', linewidths=0, label='All data', zorder=1)
    x, y = xy(ag)
    ax.scatter(x, y, s=30, c='#ff0000', marker='d', edgecolors='#a00000',
               linewidths=0.5, label='AG', zorder=2)
    x, y = xy(rsn)
    ax.scatter(x, y, s=34, c='#6fa83a', marker='o', edgecolors='#3f5a26',
               linewidths=0.5, label='RSN', zorder=3)
    x, y = xy(sc)
    ax.scatter(x, y, s=24, c='#ffd200', marker='s', edgecolors='#8a8a8a',
               linewidths=0.5, label='SC', zorder=4)

    ax.set_xscale('log')
    ax.set_yscale('log')
    ax.set_xlim(1e-2, 1e2)
    ax.set_ylim(*ylim)
    for axis in (ax.xaxis, ax.yaxis):
        axis.set_major_locator(LogLocator(base=10, numticks=12))
        axis.set_minor_locator(LogLocator(base=10, subs=np.arange(2, 10), numticks=12))
        axis.set_minor_formatter(NullFormatter())
        axis.set_major_formatter(LogFormatterSciNotation())
    ax.tick_params(which='both', direction='in', top=True, right=True,
                   color=SPINE, labelsize=10.5, labelcolor=TEXT)
    ax.tick_params(axis='x', which='both', pad=6)
    ax.tick_params(axis='y', which='both', pad=3)
    ax.tick_params(which='major', length=3.5, width=0.6)
    ax.tick_params(which='minor', length=2, width=0.5)
    for sp in ax.spines.values():
        sp.set_color(SPINE)
        sp.set_linewidth(0.8)

    ax.set_xlabel('Propane (ppb)', fontsize=11, color=TEXT, labelpad=1)
    ax.set_ylabel(ylabel, fontsize=11, color=TEXT, labelpad=1)
    ax.text(0.05, 0.95, letter, transform=ax.transAxes, ha='left', va='top',
            fontsize=11, color='#1a1a1a')

    leg = ax.legend(loc='lower right', fontsize=9.5, frameon=True, fancybox=False,
                    edgecolor=SPINE, borderpad=0.25, labelspacing=0.15,
                    handlelength=0.6, handletextpad=0.3, borderaxespad=0.25,
                    markerscale=0.7)
    leg.get_frame().set_linewidth(0.8)
    leg.legend_handles[0].set_sizes([3])


fig = plt.figure(figsize=(13.34, 5.30), dpi=100)
W, H = 1334.0, 530.0
lefts = [55, 385, 715, 1047]
tops = [15, 280]
for i in range(8):
    r, c = divmod(i, 4)
    ax = fig.add_axes([lefts[c] / W, (H - tops[r] - 208) / H, 276 / W, 208 / H])
    draw_panel(ax, LETTERS[i], YLABELS[i], YLIMS[i], SERIES[i])

fig.savefig('out.png', dpi=100)
